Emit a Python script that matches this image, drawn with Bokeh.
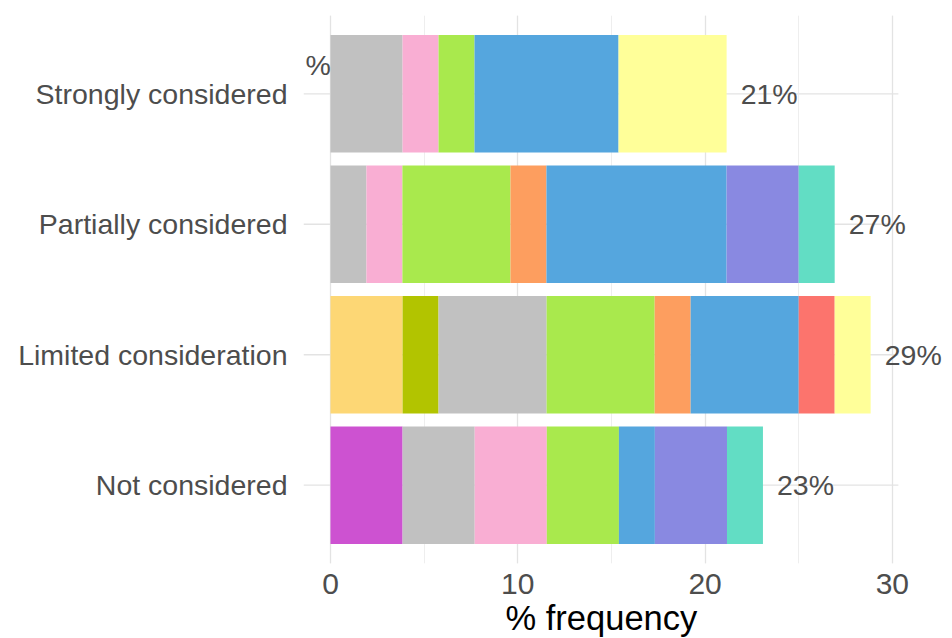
from bokeh.plotting import figure
from bokeh.models import ColumnDataSource, Range1d, FactorRange, SingleIntervalTicker, Label, Title
from bokeh.embed import file_html
from bokeh.resources import INLINE

# ---- data (percent frequency) ----
categories = ["Not considered", "Limited consideration", "Partially considered", "Strongly considered"]

light_orange = [0.00, 3.85, 0.00, 0.00]
olive        = [0.00, 1.92, 0.00, 0.00]
magenta      = [3.85, 0.00, 0.00, 0.00]
gray         = [3.85, 5.77, 1.92, 3.85]
pink         = [3.85, 0.00, 1.92, 1.92]
green        = [3.85, 5.77, 5.77, 1.92]
orange       = [0.00, 1.92, 1.92, 0.00]
blue         = [1.92, 5.77, 9.62, 7.69]
red          = [0.00, 1.92, 0.00, 0.00]
purple       = [3.85, 0.00, 3.85, 0.00]
yellow       = [0.00, 1.92, 0.00, 5.77]
teal         = [1.92, 0.00, 1.92, 0.00]

series = {
    "light_orange": (light_orange, "#fdd775"),
    "olive": (olive, "#b2c400"),
    "magenta": (magenta, "#cd52d1"),
    "gray": (gray, "#c1c1c1"),
    "pink": (pink, "#f9aed3"),
    "green": (green, "#a9e94d"),
    "orange": (orange, "#fd9e5f"),
    "blue": (blue, "#55a6de"),
    "red": (red, "#fc746d"),
    "purple": (purple, "#8989e1"),
    "yellow": (yellow, "#ffff99"),
    "teal": (teal, "#62ddc4"),
}

names = list(series.keys())
colors = [series[n][1] for n in names]
data = {"cat": categories}
for n in names:
    data[n] = series[n][0]
source = ColumnDataSource(data)

totals = [sum(series[n][0][i] for n in names) for i in range(len(categories))]
total_src = ColumnDataSource(dict(
    cat=categories,
    lx=[t + 0.75 for t in totals],
    lbl=["%d%%" % round(t) for t in totals],
))

FONT = "Liberation Sans"
GREY_TXT = "#4d4d4d"
GRID = "#e3e3e3"
X_MIN, X_PANEL_MAX, X_MAX = -1.44, 30.32, 33.21
Y_PAD = 0.05

p = figure(
    width=952, height=638,
    y_range=FactorRange(factors=categories, range_padding=Y_PAD),
    x_range=Range1d(X_MIN, X_MAX),
    output_backend="svg", toolbar_location=None,
    min_border_left=303, min_border_right=0, min_border_top=15, min_border_bottom=75,
)
p.outline_line_color = None
p.background_fill_color = "white"
p.border_fill_color = "white"

# horizontal grid lines limited to the panel width
hg = p.segment(x0=X_MIN, x1=X_PANEL_MAX, y0="cat", y1="cat", source=total_src,
               line_color=GRID, line_width=1.3)
hg.level = "underlay"

p.hbar_stack(names, y="cat", height=0.9, color=colors, line_color=None, source=source)

# total labels right of each bar
p.text(x="lx", y="cat", text="lbl", source=total_src, text_align="left",
       text_baseline="middle", text_font_size="28.5px", text_color=GREY_TXT,
       text_font={"value": FONT})

# fragment of text cut by the left edge in the reference
p.add_layout(Label(x=2, x_units="screen", y=3.72, text="%", text_align="left",
                   text_baseline="middle", text_font_size="28.5px",
                   text_color=GREY_TXT, text_font=FONT))

# x axis title
p.add_layout(Title(text="% frequency", align="left", offset=202, standoff=0,
                   text_font_size="34.5px", text_font=FONT, text_color="black",
                   text_font_style="normal"), "below")

ticker = SingleIntervalTicker(interval=10, num_minor_ticks=2)
p.xaxis.ticker = ticker
p.xgrid.ticker = ticker
p.xgrid.grid_line_color = GRID
p.xgrid.grid_line_width = 1.3
p.xgrid.minor_grid_line_color = "#ececec"
p.xgrid.minor_grid_line_width = 0.9
p.ygrid.grid_line_color = None

for ax in (p.xaxis[0], p.yaxis[0]):
    ax.axis_line_color = None
    ax.major_tick_line_color = None
    ax.minor_tick_line_color = None
    ax.major_label_text_color = GREY_TXT
    ax.major_label_text_font = FONT

p.yaxis.major_label_text_font_size = "28.5px"
p.yaxis.major_label_standoff = 10
p.xaxis.major_label_text_font_size = "30px"
p.xaxis.major_label_standoff = 4

open("out.html", "w").write(file_html(p, INLINE))
